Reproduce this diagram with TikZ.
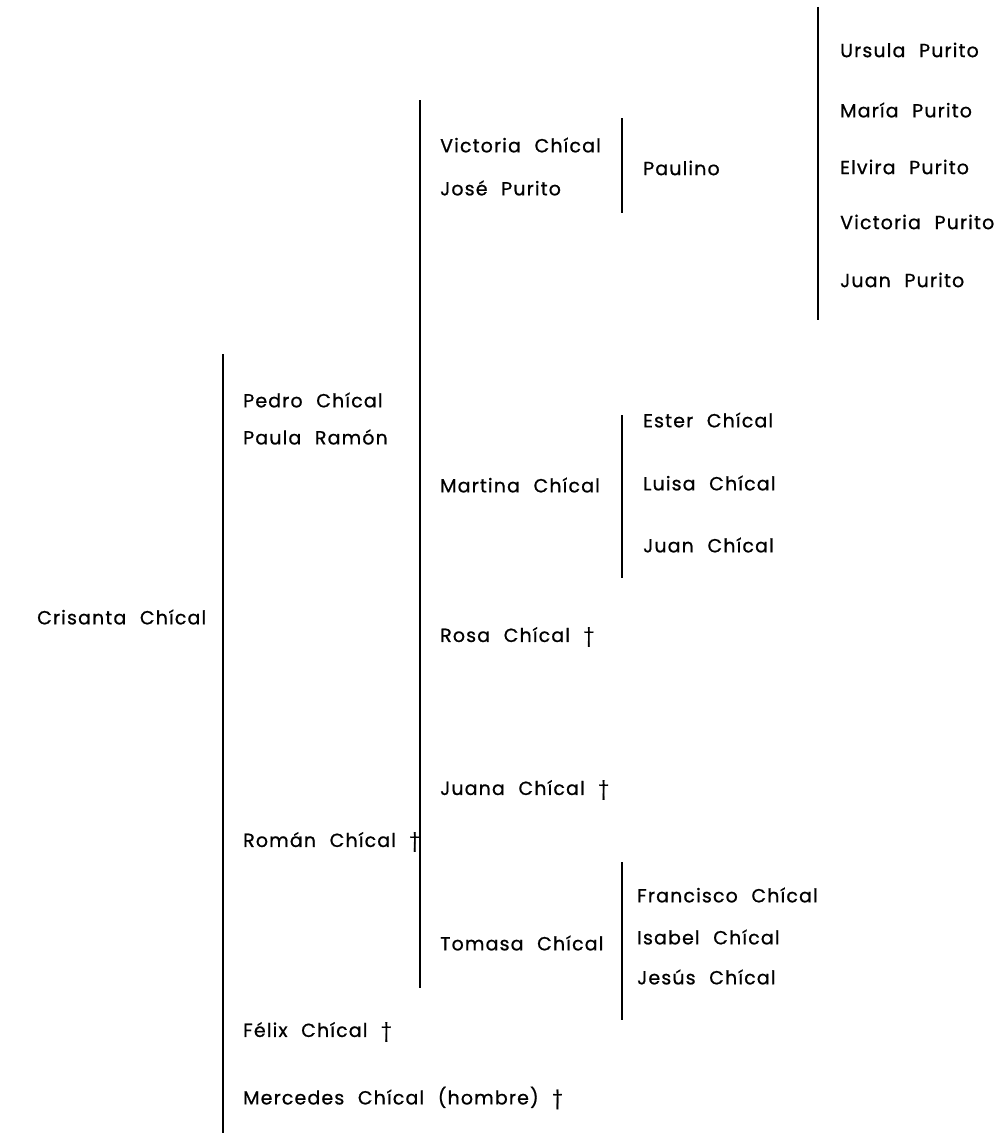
\documentclass[tikz,border=0pt]{standalone}
\usepackage{fontspec}
\setmainfont{Poppins}[LetterSpace=6,WordSpace=2.2,FakeBold=0.8]
\begin{document}
\begin{tikzpicture}[x=1pt,y=-1pt,
  person/.style={anchor=west,inner sep=0pt,font=\fontsize{19}{22}\selectfont},
  bar/.style={line width=1.8pt,line cap=butt}]
\useasboundingbox (0,0) rectangle (1005,1140);

% generation 1
\node[person] (crisanta) at (37,617) {Crisanta Chícal};

% generation 2
\node[person] (pedro)    at (243,400) {Pedro Chícal};
\node[person] (paula)    at (243,437) {Paula Ramón};
\node[person] (roman)    at (243,842) {Román Chícal †};
\node[person] (felix)    at (243,1032) {Félix Chícal †};
\node[person] (mercedes) at (243,1098) {Mercedes Chícal (hombre) †};

% generation 3
\node[person] (victoria) at (440,145) {Victoria Chícal};
\node[person] (jose)     at (440,188) {José Purito};
\node[person] (martina)  at (440,485) {Martina Chícal};
\node[person] (rosa)     at (440,637) {Rosa Chícal †};
\node[person] (juana)    at (440,790) {Juana Chícal †};
\node[person] (tomasa)   at (440,943) {Tomasa Chícal};

% generation 4
\node[person] (paulino)   at (643,168) {Paulino};
\node[person] (ester)     at (643,420) {Ester Chícal};
\node[person] (luisa)     at (643,483) {Luisa Chícal};
\node[person] (juanc)     at (643,545) {Juan Chícal};
\node[person] (francisco) at (637,895) {Francisco Chícal};
\node[person] (isabel)    at (637,937) {Isabel Chícal};
\node[person] (jesus)     at (637,977) {Jesús Chícal};

% generation 5
\node[person] (ursula)    at (840,50)  {Ursula Purito};
\node[person] (maria)     at (840,110) {María Purito};
\node[person] (elvira)    at (840,167) {Elvira Purito};
\node[person] (victoriap) at (840,222) {Victoria Purito};
\node[person] (juanp)     at (840,280) {Juan Purito};

% brackets joining each parent to its children
\draw[bar] (223,354) -- (223,463);
\draw[bar] (223,463) -- (223,1022);
\draw[bar] (223,1022) -- (223,1133);

\draw[bar] (420,100) -- (420,365);
\draw[bar] (420,365) -- (420,610);
\draw[bar] (420,610) -- (420,740);
\draw[bar] (420,740) -- (420,875);
\draw[bar] (420,875) -- (420,988);

\draw[bar] (622,118) -- (622,213);
\draw[bar] (622,415) -- (622,578);
\draw[bar] (622,862) -- (622,1020);

\draw[bar] (818,7) -- (818,320);
\end{tikzpicture}
\end{document}
